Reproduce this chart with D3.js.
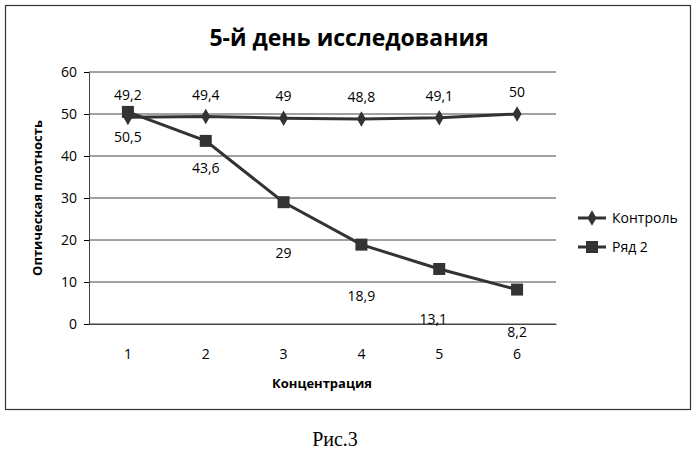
<!DOCTYPE html><html><head><meta charset="utf-8"><script src="https://cdn.jsdelivr.net/npm/d3@7"></script>
<style>body{margin:0;background:#fff}</style></head><body><svg id="c" width="699" height="451"></svg><script>
const categories=["1","2","3","4","5","6"];
const control=[49.2,49.4,49,48.8,49.1,50];
const series2=[50.5,43.6,29,18.9,13.1,8.2];
const yTicks=[0,10,20,30,40,50,60];
const labelDy2=[25,27,51,51,50,42];
const svg=d3.select("#c");
const F="'Open Sans',Arial,sans-serif";
svg.append("rect").attr("x",5.5).attr("y",5.5).attr("width",685).attr("height",404).attr("fill","none").attr("stroke","#333").attr("stroke-width",1.2);
const x=d3.scaleBand().domain(categories).range([89,556]);
const y=d3.scaleLinear().domain([0,60]).range([324,72]);
const g=svg.append("g");
yTicks.forEach(t=>g.append("line").attr("x1",89).attr("x2",556).attr("y1",y(t)).attr("y2",y(t)).attr("stroke","#444").attr("stroke-width",1));
g.append("g").attr("transform","translate(89,0)").call(d3.axisLeft(y).tickValues(yTicks).tickSize(5).tickFormat(d=>d)).call(a=>{a.select(".domain").attr("stroke","#444");a.selectAll("text").attr("font-size",14).attr("font-family",F).attr("dx",-4)});
g.append("g").attr("transform","translate(0,324)").call(d3.axisBottom(x).tickSize(0).tickPadding(25)).call(a=>{a.select(".domain").attr("stroke","#444");a.selectAll("text").attr("font-size",14).attr("font-family",F)});
const cx=d=>x(d)+x.bandwidth()/2;
const line=d3.line().x((d,i)=>cx(categories[i])).y(d=>y(d));
g.append("path").datum(control).attr("d",line).attr("fill","none").attr("stroke","#333").attr("stroke-width",3);
g.append("path").datum(series2).attr("d",line).attr("fill","none").attr("stroke","#333").attr("stroke-width",3);
const dia=d3.symbol().type(d3.symbolDiamond).size(70);
control.forEach((v,i)=>{g.append("path").attr("d",dia).attr("transform",`translate(${cx(categories[i])},${y(v)})`).attr("fill","#333");
g.append("text").attr("x",cx(categories[i])).attr("y",y(v)-17).attr("text-anchor","middle").attr("font-size",14).attr("font-family",F).text(String(v).replace(".",","));});
series2.forEach((v,i)=>{g.append("rect").attr("x",cx(categories[i])-6).attr("y",y(v)-6).attr("width",12).attr("height",12).attr("fill","#333");
g.append("text").attr("x",cx(categories[i])-(i==4?6:0)).attr("y",y(v)+labelDy2[i]+5).attr("text-anchor","middle").attr("font-size",14).attr("font-family",F).text(String(v).replace(".",","));});
svg.append("text").attr("x",349).attr("y",46).attr("text-anchor","middle").attr("font-size",23).attr("font-weight","bold").attr("font-family",F).text("5-й день исследования");
svg.append("text").attr("transform","translate(42,198) rotate(-90)").attr("text-anchor","middle").attr("font-size",13).attr("font-weight","bold").attr("font-family",F).text("Оптическая плотность");
svg.append("text").attr("x",322).attr("y",388).attr("text-anchor","middle").attr("font-size",13).attr("font-weight","bold").attr("font-family",F).text("Концентрация");
const leg=[["Контроль","d",218],["Ряд 2","s",247]];
leg.forEach(l=>{svg.append("line").attr("x1",578).attr("x2",606).attr("y1",l[2]).attr("y2",l[2]).attr("stroke","#333").attr("stroke-width",3);
if(l[1]=="d")svg.append("path").attr("d",dia).attr("transform",`translate(592,${l[2]})`).attr("fill","#333");
else svg.append("rect").attr("x",586).attr("y",l[2]-6).attr("width",12).attr("height",12).attr("fill","#333");
svg.append("text").attr("x",612).attr("y",l[2]+5).attr("font-size",14).attr("font-family",F).text(l[0]);});
svg.append("text").attr("x",335).attr("y",446).attr("text-anchor","middle").attr("font-size",20).attr("font-family","'Liberation Serif',serif").text("Рис.3");
</script></body></html>
